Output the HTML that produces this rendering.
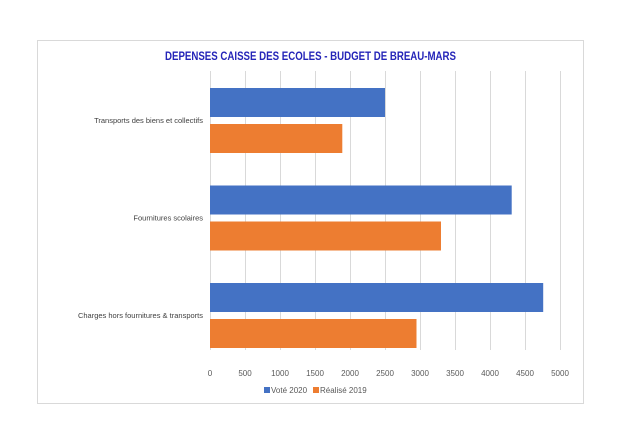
<!DOCTYPE html>
<html><head><meta charset="utf-8"><style>
body{margin:0;background:#fff;}
svg{display:block;font-family:"Liberation Sans",sans-serif;}
</style></head><body>
<svg id="chart" width="624" height="444">
<rect x="37.5" y="40.5" width="546" height="363" fill="#fff" stroke="#d9d9d9"/>
<text x="310.5" y="60" text-anchor="middle" font-size="12" font-weight="bold" fill="#2424b8" textLength="291" lengthAdjust="spacingAndGlyphs">DEPENSES CAISSE DES ECOLES - BUDGET DE BREAU-MARS</text>
<g id="grid"></g><g id="bars"></g><g id="labels"></g>
<g>
<rect x="264" y="387" width="6" height="6" fill="#4472c4"/>
<text x="271" y="393" font-size="8" fill="#595959">Voté 2020</text>
<rect x="313" y="387" width="6" height="6" fill="#ed7d31"/>
<text x="320" y="393" font-size="8" fill="#595959">Réalisé 2019</text>
</g>
</svg>
<script>
const categories = ["Transports des biens et collectifs","Fournitures scolaires","Charges hors fournitures & transports"];
const vote2020 = [2500, 4310, 4760];
const realise2019 = [1890, 3300, 2950];
const ticks = [0,500,1000,1500,2000,2500,3000,3500,4000,4500,5000];
const NS="http://www.w3.org/2000/svg";
const x0=210, x1=560, yTop=71, yBot=350, vmax=5000;
const xs=v=>x0+(v/vmax)*(x1-x0);
const band=97.5, firstBar=88;
function mk(t,a,p){const e=document.createElementNS(NS,t);for(const k in a)e.setAttribute(k,a[k]);p.appendChild(e);return e;}
const grid=document.getElementById('grid'),bars=document.getElementById('bars'),labels=document.getElementById('labels');
ticks.forEach(t=>{
  const l=mk('line',{x1:xs(t)+.5,x2:xs(t)+.5,y1:yTop,y2:yBot,stroke:'#d9d9d9'},grid);
  
  
  const tx=mk('text',{x:xs(t),y:376,'text-anchor':'middle','font-size':8,fill:'#595959'},labels);
  tx.textContent=t;
  
  
});
categories.forEach((c,i)=>{
  const by=firstBar+band*i;
  const b1=mk('rect',{x:x0,y:by,width:xs(vote2020[i])-x0,height:29,fill:'#4472c4'},bars);
  
  
  const b2=mk('rect',{x:x0,y:by+36,width:xs(realise2019[i])-x0,height:29,fill:'#ed7d31'},bars);
  
  
  const t=mk('text',{x:203,y:by+35,'text-anchor':'end','font-size':7.5,fill:'#404040'},labels);
  t.textContent=c;
  
  
});
</script>
</body></html>
